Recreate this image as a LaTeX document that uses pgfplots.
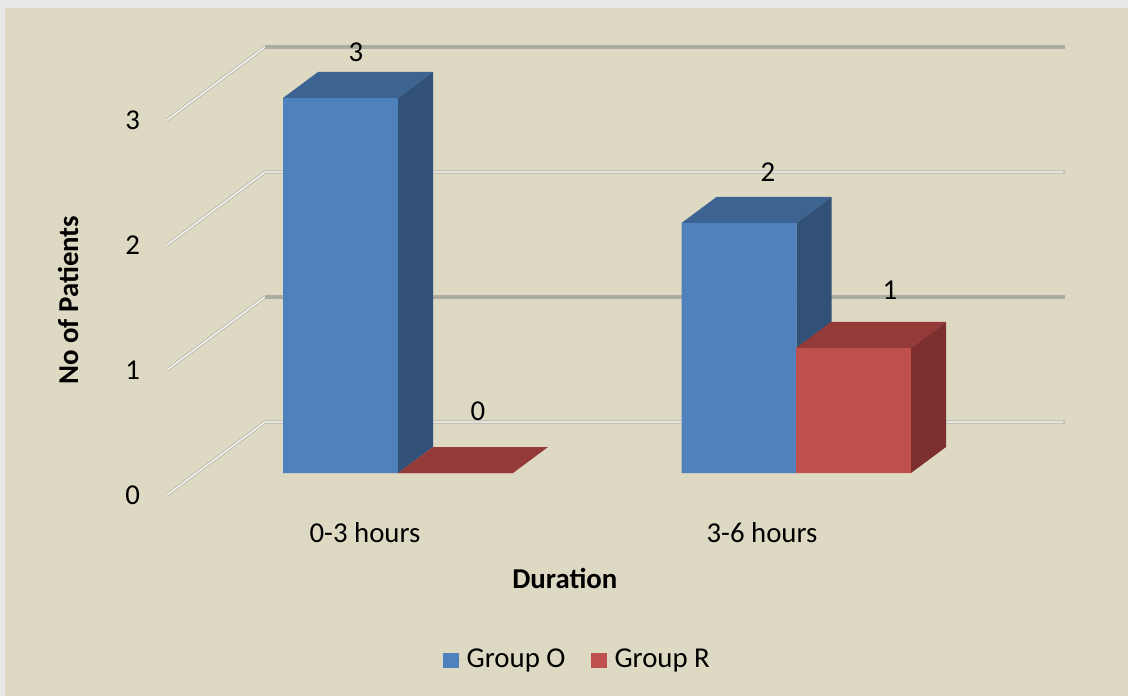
\documentclass[border=0pt]{standalone}
\usepackage{fontspec}
\setmainfont{Carlito}
\usepackage{pgfplots}
\pgfplotsset{compat=1.18}
\definecolor{bg}{RGB}{221,217,195}
\definecolor{outer}{RGB}{232,232,230}
\definecolor{bfront}{RGB}{79,129,189}
\definecolor{btop}{RGB}{61,99,147}
\definecolor{bside}{RGB}{50,81,120}
\definecolor{rfront}{RGB}{192,80,77}
\definecolor{rtop}{RGB}{148,58,56}
\definecolor{rside}{RGB}{124,47,45}
\definecolor{gridd}{RGB}{173,172,163}
\definecolor{gridl}{RGB}{196,194,182}
\begin{document}
\begin{tikzpicture}
\useasboundingbox (0,0) rectangle (564pt,348pt);
\fill[outer] (0,0) rectangle (564pt,348pt);
\fill[bg] (2.5pt,0) rectangle (564pt,344pt);
\begin{axis}[
  at={(83.5pt,100.5pt)}, anchor=south west,
  scale only axis, width=449pt, height=224.5pt,
  xmin=167, xmax=1065, ymin=-0.176, ymax=3.416,
  clip=false,
  axis line style={draw=none},
  major tick length=0pt,
  font=\fontsize{14.4}{17}\selectfont,
  /pgf/number format/assume math mode=true,
  ytick={-0.176,0.824,1.824,2.824},
  yticklabels={0,1,2,3},
  yticklabel style={anchor=east, xshift=-10pt},
  xtick={365,762},
  xticklabels={0-3 hours,3-6 hours},
  xticklabel style={anchor=north, yshift=-10pt},
  xlabel={\textbf{Duration}},
  xlabel style={at={(axis description cs:0.443,-0.185)}, anchor=center},
  ylabel={\textbf{No of Patients}},
  ylabel style={at={(axis description cs:-0.110,0.434)}, anchor=center, rotate=0},
  legend columns=2,
  legend style={at={(axis description cs:0.458,-0.3675)}, anchor=center, draw=none, fill=none,
    font=\fontsize{14.4}{17}\selectfont,
    /tikz/every even column/.append style={column sep=10.5pt}},
  legend image code/.code={\fill[#1] (0pt,-3.75pt) rectangle (8pt,3.75pt); \path (0pt,0pt) -- (10pt,0pt);},
]
% back wall / floor grid lines
\addplot[forget plot, gridl, line width=1.8pt] coordinates {(167,-0.176) (265,0.408) (1065,0.408)};
\addplot[forget plot, white!85!gridl, line width=0.6pt] coordinates {(167,-0.176) (265,0.408) (1063,0.408)};
\addplot[forget plot, gridl, line width=1.8pt] coordinates {(167,0.824) (265,1.408)};
\addplot[forget plot, white!85!gridl, line width=0.6pt] coordinates {(167,0.824) (265,1.408)};
\addplot[forget plot, gridd, line width=1.8pt] coordinates {(265,1.408) (1065,1.408)};
\addplot[forget plot, gridl, line width=1.8pt] coordinates {(167,1.824) (265,2.408) (1065,2.408)};
\addplot[forget plot, white!85!gridl, line width=0.6pt] coordinates {(167,1.824) (265,2.408) (1063,2.408)};
\addplot[forget plot, gridl, line width=1.8pt] coordinates {(167,2.824) (265,3.408)};
\addplot[forget plot, white!85!gridl, line width=0.6pt] coordinates {(167,2.824) (265,3.408)};
\addplot[forget plot, gridd, line width=1.8pt] coordinates {(265,3.408) (1065,3.408)};
% Group O
\addplot[ybar, bar width=115, bar shift=0pt, fill=bfront, draw=none] coordinates {(340.5,3) (739,2)};
\addlegendentry{Group O}
\addplot[forget plot, fill=btop, draw=none] coordinates {(283,3) (398,3) (433,3.208) (318,3.208)} -- cycle;
\addplot[forget plot, fill=bside, draw=none] coordinates {(398,0) (398,3) (433,3.208) (433,0.208)} -- cycle;
\addplot[forget plot, fill=btop, draw=none] coordinates {(681.5,2) (796.5,2) (831.5,2.208) (716.5,2.208)} -- cycle;
\addplot[forget plot, fill=bside, draw=none] coordinates {(796.5,0) (796.5,2) (831.5,2.208) (831.5,0.208)} -- cycle;
% Group R
\addplot[ybar, bar width=115, bar shift=0pt, fill=rfront, draw=none] coordinates {(455.5,0) (853.5,1)};
\addlegendentry{Group R}
\addplot[forget plot, fill=rtop, draw=none] coordinates {(398,0) (513,0) (548,0.208) (433,0.208)} -- cycle;
\addplot[forget plot, fill=rtop, draw=none] coordinates {(796,1) (911,1) (946,1.208) (831,1.208)} -- cycle;
\addplot[forget plot, fill=rside, draw=none] coordinates {(911,0) (911,1) (946,1.208) (946,0.208)} -- cycle;
% value labels
\node at (axis cs:356,3.368) {3};
\node at (axis cs:478,0.496) {0};
\node at (axis cs:768,2.408) {2};
\node at (axis cs:890,1.464) {1};
\end{axis}
\end{tikzpicture}
\end{document}
